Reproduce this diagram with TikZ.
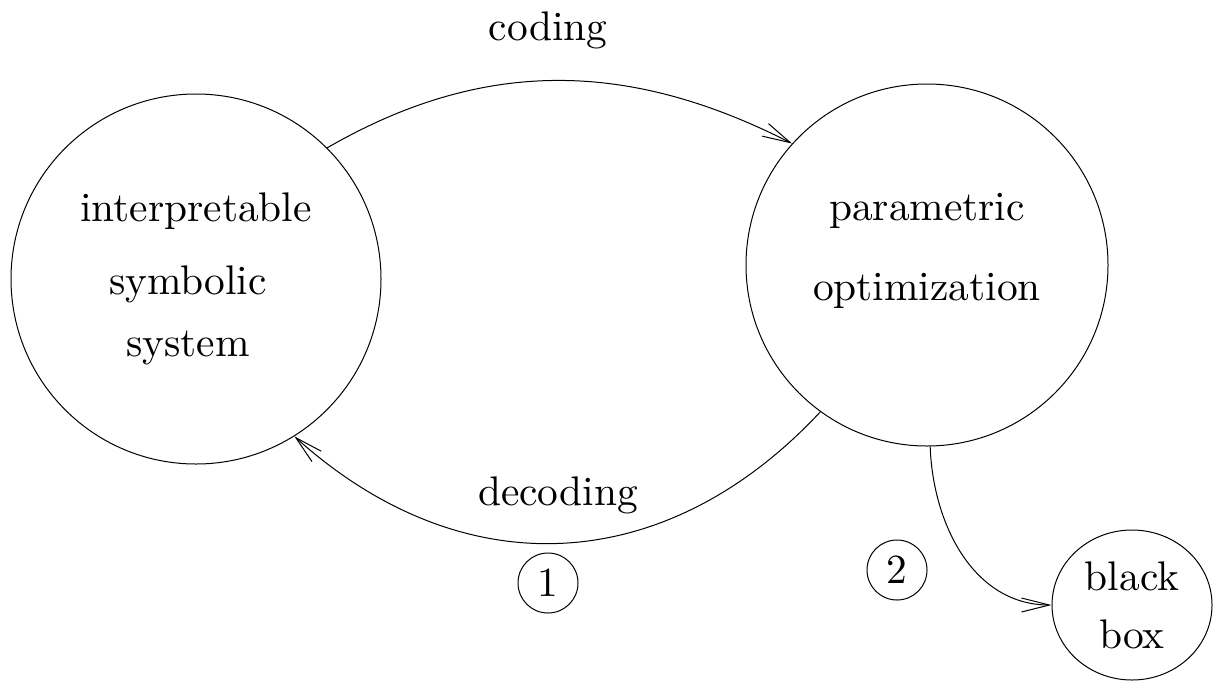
\documentclass[tikz,border=0pt]{standalone}
\usepackage{fontspec}
\setmainfont{lmroman10-regular.otf}
\usetikzlibrary{shapes.geometric,arrows.meta}
\begin{document}
\begin{tikzpicture}[x=0.5pt,y=-0.5pt, line width=0.5pt,
  every node/.style = {align=center, inner sep=0pt,
    font=\fontsize{20.7}{25}\selectfont},
  >={Straight Barb[length=14pt,width=7pt]}]
  \tikzstyle{bubble}=[draw, ellipse]
  \tikzstyle{tag}=[draw, circle, minimum size=30pt]
  \useasboundingbox (0,0) rectangle (1214,681);
  \node[bubble, minimum width=185pt, minimum height=185pt] (sym) at (196,279)
    {interpretable\\[11.5pt]symbolic\kern8pt\\[6pt]system\kern8pt};
  \node[bubble, minimum width=181pt, minimum height=181pt] (opt) at (927,265)
    {parametric\\[15pt]optimization\\[-7pt]};
  \node[bubble, minimum width=80pt, minimum height=75pt] (box) at (1132,605)
    {black\\[4pt]box};
  \node[anchor=base] (coding) at (548,40) {coding};
  \node[anchor=base] (decoding) at (558,505) {decoding};
  \node[tag] (one) at (548,583) {1};
  \node[tag] (two) at (897,570) {2};
  \draw[->] (sym.45.6) to[out=30,in=153] (opt.138);
  \draw[->] (opt.234.5) to[out=227,in=318,looseness=1.1] (sym.-58);
  \draw[->] (opt.-89) to[out=-88,in=180] (box.west);
\end{tikzpicture}
\end{document}
